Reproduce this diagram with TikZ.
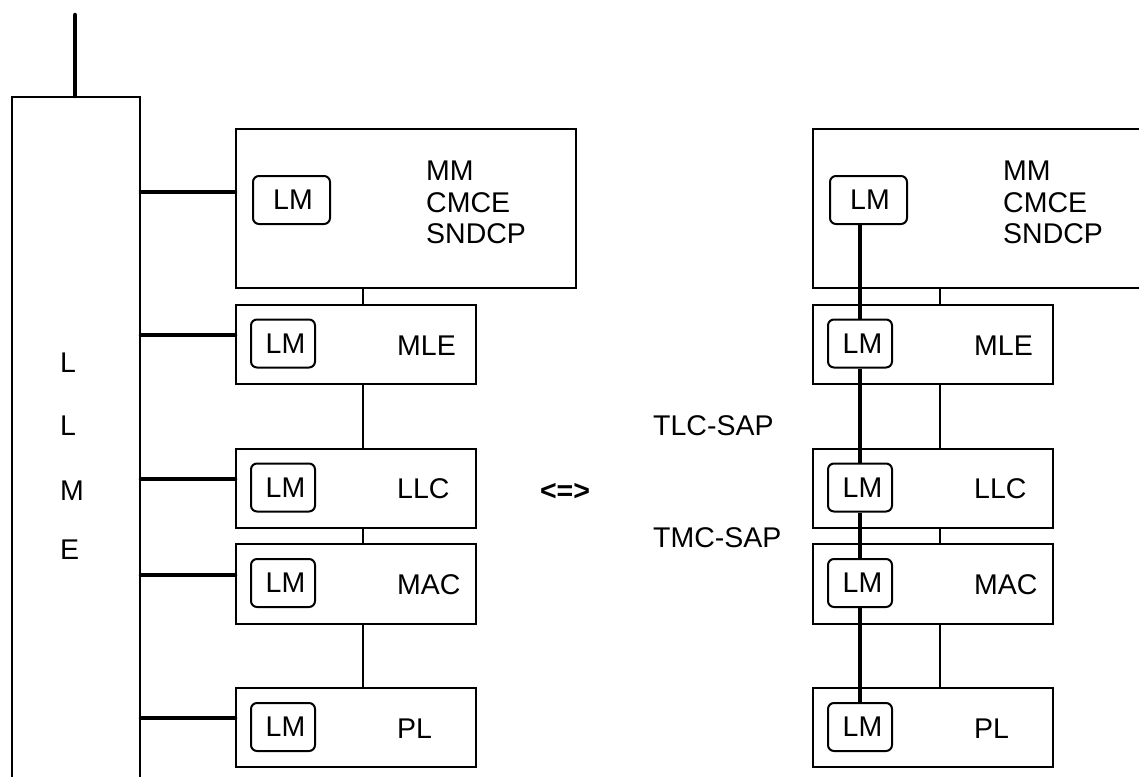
\documentclass[tikz,border=0pt]{standalone}
\usepackage{fontspec}
\setmainfont{Liberation Sans}
\begin{document}
\begin{tikzpicture}[x=1pt,y=-1pt,
  thinline/.style={line width=2pt},
  thickline/.style={line width=4.5pt, line cap=round},
  layer/.style={draw, line width=2pt, anchor=north west, inner sep=0pt, minimum width=240pt, minimum height=79pt},
  topbox/.style={layer, minimum width=340pt, minimum height=159pt},
  lm/.style={draw, line width=2pt, rounded corners=6pt, minimum width=64pt, minimum height=48pt, inner sep=0pt, font=\fontsize{28.5}{30}\selectfont},
  lmwide/.style={lm, minimum width=77pt},
  lbl/.style={anchor=base west, inner sep=0pt, font=\fontsize{28.5}{31.5}\selectfont}]
\useasboundingbox (0,0) rectangle (1139,776);
\clip (0,0) rectangle (1139,776);

% LLME column
\node[draw, line width=2pt, anchor=north west, inner sep=0pt, minimum width=128pt, minimum height=720pt] (llme) at (11,96) {};
\coordinate (topend) at (75,15);
\draw[thickline] (topend) -- (topend |- llme.north);
\node[lbl] (L1) at (60,372) {L};
\node[lbl] (L2) at (60,435) {L};
\node[lbl] (M1) at (60,500) {M};
\node[lbl] (E1) at (60,559) {E};

% left stack
\node[topbox] (lTop) at (235,128) {};
\node[layer] (lMLE) at (235,304) {};
\node[layer] (lLLC) at (235,448) {};
\node[layer, minimum height=80pt] (lMAC) at (235,543) {};
\node[layer] (lPL) at (235,687) {};
\node[lmwide] (lTopLM) at (291.5,200) {\hspace*{3pt}LM};
\node[lm] (lMLELM) at (283,343.5) {\hspace*{5pt}LM};
\node[lm] (lLLCLM) at (283,487.5) {\hspace*{5pt}LM};
\node[lm] (lMACLM) at (283,583) {\hspace*{5pt}LM};
\node[lm] (lPLLM) at (283,727) {\hspace*{5pt}LM};
\node[lbl] (lMM) at (426,180) {MM};
\node[lbl] (lCMCE) at (426,212) {CMCE};
\node[lbl] (lSNDCP) at (426,243) {SNDCP};
\node[lbl] (lMLEt) at (397,355) {MLE};
\node[lbl] (lLLCt) at (397,498) {LLC};
\node[lbl] (lMACt) at (397,594) {MAC};
\node[lbl] (lPLt) at (397,738) {PL};

\coordinate (lcx) at (363,0);
\draw[thinline] (lcx |- lTop.south) -- (lcx |- lMLE.north);
\draw[thinline] (lcx |- lMLE.south) -- (lcx |- lLLC.north);
\draw[thinline] (lcx |- lLLC.south) -- (lcx |- lMAC.north);
\draw[thinline] (lcx |- lMAC.south) -- (lcx |- lPL.north);

\coordinate (y1) at (0,192);
\coordinate (y2) at (0,335);
\coordinate (y3) at (0,479);
\coordinate (y4) at (0,575);
\coordinate (y5) at (0,718);
\draw[thickline] (llme.east |- y1) -- (lTop.west |- y1);
\draw[thickline] (llme.east |- y2) -- (lMLE.west |- y2);
\draw[thickline] (llme.east |- y3) -- (lLLC.west |- y3);
\draw[thickline] (llme.east |- y4) -- (lMAC.west |- y4);
\draw[thickline] (llme.east |- y5) -- (lPL.west |- y5);

% middle labels
\node[anchor=base, inner sep=0pt, font=\fontsize{28.5}{30}\selectfont\bfseries] (equiv) at (565,500) {<=>};
\node[lbl] (tlc) at (653,435) {TLC-SAP};
\node[lbl] (tmc) at (653,547) {TMC-SAP};

% right stack
\node[topbox] (rTop) at (812,128) {};
\node[layer] (rMLE) at (812,304) {};
\node[layer] (rLLC) at (812,448) {};
\node[layer, minimum height=80pt] (rMAC) at (812,543) {};
\node[layer] (rPL) at (812,687) {};
\node[lmwide] (rTopLM) at (868.5,200) {\hspace*{3pt}LM};
\node[lm] (rMLELM) at (860,343.5) {\hspace*{5pt}LM};
\node[lm] (rLLCLM) at (860,487.5) {\hspace*{5pt}LM};
\node[lm] (rMACLM) at (860,583) {\hspace*{5pt}LM};
\node[lm] (rPLLM) at (860,727) {\hspace*{5pt}LM};
\node[lbl] (rMM) at (1003,180) {MM};
\node[lbl] (rCMCE) at (1003,212) {CMCE};
\node[lbl] (rSNDCP) at (1003,243) {SNDCP};
\node[lbl] (rMLEt) at (974,355) {MLE};
\node[lbl] (rLLCt) at (974,498) {LLC};
\node[lbl] (rMACt) at (974,594) {MAC};
\node[lbl] (rPLt) at (974,738) {PL};

\coordinate (rcx) at (940,0);
\draw[thinline] (rcx |- rTop.south) -- (rcx |- rMLE.north);
\draw[thinline] (rcx |- rMLE.south) -- (rcx |- rLLC.north);
\draw[thinline] (rcx |- rLLC.south) -- (rcx |- rMAC.north);
\draw[thinline] (rcx |- rMAC.south) -- (rcx |- rPL.north);

\draw[line width=4.5pt] (rMLELM.north |- rTopLM.south) -- (rMLELM.north);
\draw[line width=4.5pt] (rMLELM.south) -- (rLLCLM.north);
\draw[line width=4.5pt] (rLLCLM.south) -- (rMACLM.north);
\draw[line width=4.5pt] (rMACLM.south) -- (rPLLM.north);
\end{tikzpicture}
\end{document}
